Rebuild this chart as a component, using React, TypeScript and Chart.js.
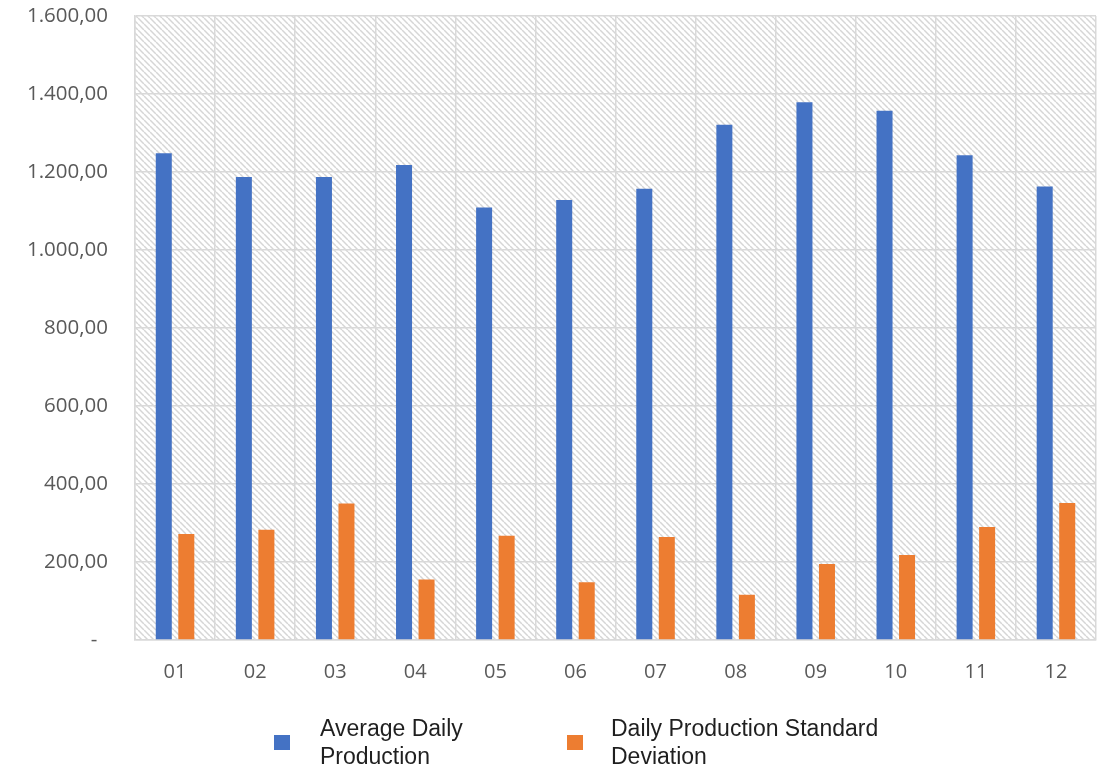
import React, { useEffect, useRef } from "react";
import { Chart, registerables } from "chart.js";

Chart.register(...registerables);

const categories = ["01", "02", "03", "04", "05", "06", "07", "08", "09", "10", "11", "12"];
const avgDailyProduction = [1248, 1187, 1187, 1218, 1109, 1128, 1157, 1321, 1379, 1357, 1243, 1163];
const stdDevProduction = [272, 283, 350, 155, 267, 148, 264, 116, 195, 218, 290, 351];
const seriesLabels = [
  ["Average Daily", "Production"],
  ["Daily Production Standard", "Deviation"],
];
const seriesColors = ["#4472C4", "#ED7D31"];
const yMin = 0;
const yMax = 1600;
const yStep = 200;

function formatDe(v: number): string {
  if (v === 0) return "-  ";
  const fixed = v.toFixed(2);
  const [intPart, dec] = fixed.split(".");
  const withDots = intPart.replace(/\B(?=(\d{3})+(?!\d))/g, ".");
  return withDots + "," + dec;
}

function makeHatch(): CanvasPattern | string {
  const s = 6;
  const c = document.createElement("canvas");
  c.width = s;
  c.height = s;
  const g = c.getContext("2d");
  if (!g) return "#eeeeee";
  g.fillStyle = "#ffffff";
  g.fillRect(0, 0, s, s);
  g.strokeStyle = "#d6d6d6";
  g.lineWidth = 1.5;
  for (const k of [-s, 0, s]) {
    g.beginPath();
    g.moveTo(k, 0);
    g.lineTo(k + s, s);
    g.stroke();
  }
  const p = g.createPattern(c, "repeat");
  return p || "#eeeeee";
}

const hatchBackground = {
  id: "hatchBackground",
  beforeDraw(chart: any) {
    const { ctx, chartArea } = chart;
    ctx.save();
    ctx.fillStyle = makeHatch();
    ctx.fillRect(chartArea.left, chartArea.top, chartArea.right - chartArea.left, chartArea.bottom - chartArea.top);
    ctx.restore();
  },
};

const customLegend = {
  id: "customLegend",
  afterDraw(chart: any) {
    const { ctx } = chart;
    const items = [
      { boxX: 274, textX: 320 },
      { boxX: 567, textX: 611 },
    ];
    ctx.save();
    ctx.font = "23px 'Liberation Sans', Arial, sans-serif";
    ctx.textBaseline = "alphabetic";
    ctx.textAlign = "left";
    chart.data.datasets.forEach((ds: any, i: number) => {
      const it = items[i];
      ctx.fillStyle = ds.backgroundColor;
      ctx.fillRect(it.boxX, 735, 16, 15);
      ctx.fillStyle = "#1f1f1f";
      const lines: string[] = seriesLabels[i];
      lines.forEach((ln, j) => {
        ctx.fillText(ln, it.textX, 736 + j * 28);
      });
    });
    ctx.restore();
  },
};

export default function App() {
  const ref = useRef<HTMLCanvasElement | null>(null);

  useEffect(() => {
    if (!ref.current) return;
    const chart = new Chart(ref.current, {
      type: "bar",
      data: {
        labels: categories,
        datasets: [
          {
            label: seriesLabels[0].join(" "),
            data: avgDailyProduction,
            backgroundColor: seriesColors[0],
            categoryPercentage: 0.5625,
            barPercentage: 0.711,
          },
          {
            label: seriesLabels[1].join(" "),
            data: stdDevProduction,
            backgroundColor: seriesColors[1],
            categoryPercentage: 0.5625,
            barPercentage: 0.711,
          },
        ],
      },
      options: {
        responsive: false,
        animation: false,
        devicePixelRatio: 1,
        layout: { padding: { left: 0, right: 8, top: 16, bottom: 0 } },
        plugins: {
          legend: { display: false },
          tooltip: { enabled: false },
        },
        scales: {
          x: {
            grid: { color: "#d9d9d9", lineWidth: 1.5, drawTicks: false, offset: true },
            border: { color: "#d9d9d9", width: 1.5 },
            ticks: {
              color: "#595959",
              font: { family: "'Open Sans', sans-serif", size: 20 },
              padding: 20,
              maxRotation: 0,
            },
            afterFit(scale: any) {
              scale.height = 129;
            },
          },
          y: {
            min: yMin,
            max: yMax,
            grid: { color: "#d9d9d9", lineWidth: 1.5, drawTicks: false },
            border: { color: "#d9d9d9", width: 1.5 },
            ticks: {
              stepSize: yStep,
              color: "#595959",
              font: { family: "'Open Sans', sans-serif", size: 20.5 },
              padding: 27,
              callback: (v: any) => formatDe(Number(v)),
            },
            afterFit(scale: any) {
              scale.width = 135;
              scale.paddingTop = 0;
              scale.paddingBottom = 0;
            },
          },
        },
      },
      plugins: [hatchBackground, customLegend],
    });
    return () => chart.destroy();
  }, []);

  return (
    <div style={{ position: "fixed", left: 0, top: 0, width: 1104, height: 769, background: "#ffffff" }}>
      <canvas ref={ref} width={1104} height={769} style={{ display: "block", width: 1104, height: 769 }} />
    </div>
  );
}
